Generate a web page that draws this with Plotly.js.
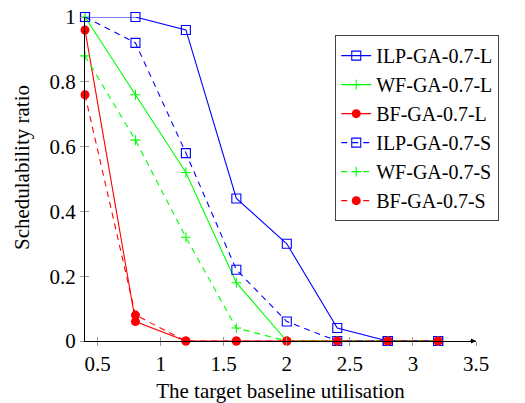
<!DOCTYPE html>
<html>
<head>
<meta charset="utf-8">
<script src="https://cdn.plot.ly/plotly-3.0.1.min.js"></script>
<style>html,body{margin:0;padding:0;background:#fff;}#chart{width:525px;height:403px;}</style>
</head>
<body>
<div id="chart"></div>
<script>
var utilisation = [0.4, 0.8, 1.2, 1.6, 2.0, 2.4, 2.8, 3.2];
var ilpL = [1, 1, 0.96, 0.44, 0.30, 0.04, 0, 0];
var wfL  = [1, 0.76, 0.52, 0.18, 0, 0, 0, 0];
var bfL  = [0.96, 0.06, 0, 0, 0, 0, 0, 0];
var ilpS = [1, 0.92, 0.58, 0.22, 0.06, 0, 0, 0];
var wfS  = [0.88, 0.62, 0.32, 0.04, 0, 0, 0, 0];
var bfS  = [0.76, 0.08, 0, 0, 0, 0, 0, 0];
var seriesNames = ['ILP-GA-0.7-L','WF-GA-0.7-L','BF-GA-0.7-L','ILP-GA-0.7-S','WF-GA-0.7-S','BF-GA-0.7-S'];
var xTicks = [0.5, 1, 1.5, 2, 2.5, 3, 3.5];
var xTickText = ['0.5','1','1.5','2','2.5','3','3.5'];
var yTicks = [0, 0.2, 0.4, 0.6, 0.8, 1];
var yTickText = ['0','0.2','0.4','0.6','0.8','1'];
var xTitle = 'The target baseline utilisation';
var yTitle = 'Schedulability ratio';

var BLUE = '#0000ff', GREEN = '#00ff00', RED = '#ff0000';
var DASH = '6px,5px';
function mk(y, name, color, dash, marker) {
  return {x: utilisation, y: y, name: name, type: 'scatter', mode: 'lines+markers',
    cliponaxis: false,
    line: {color: color, width: 1.1, dash: dash}, marker: marker};
}
var sq = {symbol: 'square-open', size: 9, color: BLUE, line: {color: BLUE, width: 1.1}};
var pl = {symbol: 'cross-thin', size: 7, color: GREEN, line: {color: GREEN, width: 1.1}};
var ci = {symbol: 'circle', size: 9, color: RED, line: {color: RED, width: 0}};
var data = [
  mk(ilpL, seriesNames[0], BLUE, 'solid', sq),
  mk(wfL, seriesNames[1], GREEN, 'solid', pl),
  mk(bfL, seriesNames[2], RED, 'solid', ci),
  mk(ilpS, seriesNames[3], BLUE, DASH, sq),
  mk(wfS, seriesNames[4], GREEN, DASH, pl),
  mk(bfS, seriesNames[5], RED, DASH, ci),
  {x: [null], y: [null], xaxis: 'x2', yaxis: 'y2', showlegend: false, hoverinfo: 'skip', type: 'scatter', mode: 'markers'}
];
var FONT = 'Liberation Serif, Liberation Sans, sans-serif';
var layout = {
  width: 525, height: 403,
  margin: {l: 85, r: 49, t: 17, b: 62},
  paper_bgcolor: '#fff', plot_bgcolor: '#fff',
  font: {family: FONT, size: 21, color: '#000'},
  showlegend: true,
  legend: {x: 0.64, y: 0.944, xanchor: 'left', yanchor: 'top',
    bordercolor: '#444', borderwidth: 1, bgcolor: '#fff',
    font: {family: FONT, size: 20, color: '#000'}, tracegroupgap: 0, itemwidth: 30},
  xaxis: {range: [0.4, 3.5], tickvals: xTicks, ticktext: xTickText,
    showgrid: false, zeroline: false, showline: true, linecolor: '#000', linewidth: 1,
    ticks: 'outside', ticklen: 4, tickcolor: '#999', tickwidth: 1,
    title: {text: xTitle, font: {family: FONT, size: 21}, standoff: 8},
    tickfont: {family: FONT, size: 21}},
  yaxis: {range: [0, 1], tickvals: yTicks, ticktext: yTickText,
    showgrid: false, zeroline: false, showline: true, linecolor: '#000', linewidth: 1,
    ticks: 'outside', ticklen: 4, tickcolor: '#999', tickwidth: 1,
    tickfont: {family: FONT, size: 21}},
  xaxis2: {overlaying: 'x', anchor: 'y2', range: [0.4, 3.5], tickvals: xTicks,
    showticklabels: false, showgrid: false, zeroline: false, showline: false,
    ticks: 'inside', ticklen: 4, tickcolor: '#999', tickwidth: 1},
  yaxis2: {overlaying: 'y', anchor: 'x2', range: [0, 1], tickvals: yTicks,
    showticklabels: false, showgrid: false, zeroline: false, showline: false,
    ticks: 'inside', ticklen: 4, tickcolor: '#999', tickwidth: 1},
  annotations: [
    {x: 3.5, y: 0, ax: 3.44, ay: 0, xref: 'x', yref: 'y', axref: 'x', ayref: 'y',
     text: '', showarrow: true, arrowhead: 2, arrowsize: 1, arrowwidth: 1, arrowcolor: '#000'},
    {x: -0.161, y: 0.534, xref: 'paper', yref: 'paper', xanchor: 'center', yanchor: 'middle',
     text: yTitle, textangle: -90, showarrow: false, font: {family: FONT, size: 21, color: '#000'}}
  ]
};
Plotly.newPlot('chart', data, layout, {displayModeBar: false, staticPlot: true});
</script>
</body>
</html>
